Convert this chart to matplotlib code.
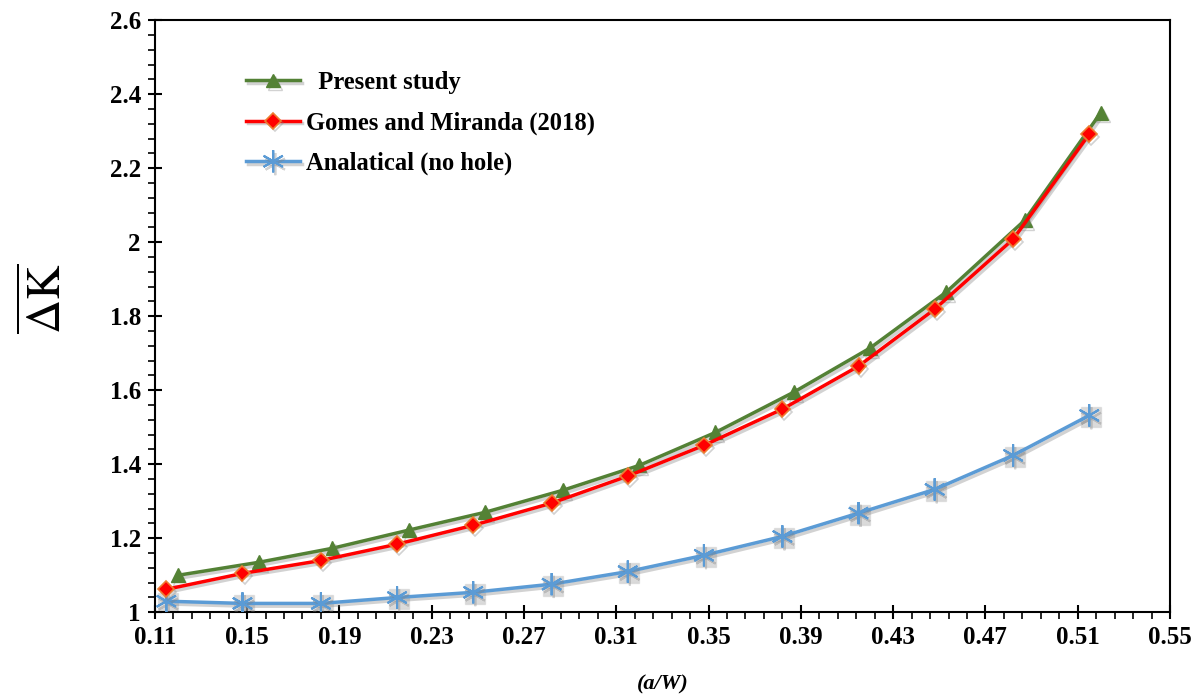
import matplotlib
matplotlib.use('Agg')
import matplotlib.pyplot as plt
import matplotlib.patheffects as pe
import numpy as np
from matplotlib.ticker import MultipleLocator, FixedLocator

plt.rcParams['font.family'] = 'Liberation Serif'
plt.rcParams['mathtext.fontset'] = 'stix'

# Present study
x_present = [0.120, 0.155, 0.187, 0.220, 0.253, 0.287, 0.320, 0.353, 0.387, 0.420, 0.453, 0.487, 0.520]
y_present = [1.100, 1.135, 1.173, 1.222, 1.270, 1.330, 1.397, 1.486, 1.595, 1.714, 1.865, 2.059, 2.350]

# Gomes and Miranda (2018)
x_gomes = [0.115, 0.148, 0.182, 0.215, 0.248, 0.282, 0.315, 0.348, 0.382, 0.415, 0.448, 0.482, 0.515]
y_gomes = [1.062, 1.105, 1.140, 1.184, 1.235, 1.295, 1.368, 1.451, 1.549, 1.665, 1.819, 2.008, 2.292]

# Analatical (no hole)
x_anal = [0.115, 0.148, 0.182, 0.215, 0.248, 0.282, 0.315, 0.348, 0.382, 0.415, 0.448, 0.482, 0.515]
y_anal = [1.030, 1.024, 1.024, 1.040, 1.054, 1.076, 1.110, 1.154, 1.205, 1.268, 1.332, 1.424, 1.532]

x_ticks = [0.11, 0.15, 0.19, 0.23, 0.27, 0.31, 0.35, 0.39, 0.43, 0.47, 0.51, 0.55]
x_tick_labels = ['0.11', '0.15', '0.19', '0.23', '0.27', '0.31', '0.35', '0.39', '0.43', '0.47', '0.51', '0.55']
y_ticks = [1.0, 1.2, 1.4, 1.6, 1.8, 2.0, 2.2, 2.4, 2.6]
y_tick_labels = ['1', '1.2', '1.4', '1.6', '1.8', '2', '2.2', '2.4', '2.6']

fig = plt.figure(figsize=(12, 6.95), dpi=100)
ax = fig.add_axes([0.129, 0.119, 0.846, 0.852])

shadow = [pe.SimpleLineShadow(offset=(1.5, -2), shadow_color='gray', alpha=0.35), pe.Normal()]

ax.plot(x_present, y_present, color='#538135', lw=2.5, marker='^', ms=10,
        mfc='#548235', mec='#548235', label='  Present study', path_effects=shadow, zorder=3)
ax.plot(x_gomes, y_gomes, color='#ff0000', lw=2.5, marker='D', ms=8,
        mfc='#ff0000', mec='#ed7d31', mew=1.2, label='Gomes and Miranda (2018)', path_effects=shadow, zorder=4)
# gray box shadow behind blue stars
ax.plot(np.array(x_anal) + 0.0007, np.array(y_anal) - 0.004, ls='none', marker='s', ms=15,
        mfc='#bdbdbd', mec='#d0d0d0', alpha=0.55, zorder=2)
ax.plot(x_anal, y_anal, color='#5b9bd5', lw=2.5, marker=(6, 2, 0), ms=16,
        mec='#5b9bd5', mew=1.5, label='Analatical (no hole)', path_effects=shadow, zorder=3)

ax.set_xlim(0.11, 0.55)
ax.set_ylim(1.0, 2.6)
ax.xaxis.set_major_locator(FixedLocator(x_ticks))
ax.set_xticklabels(x_tick_labels)
ax.xaxis.set_minor_locator(FixedLocator(np.arange(0.11, 0.5501, 0.008)))
ax.yaxis.set_major_locator(FixedLocator(y_ticks))
ax.set_yticklabels(y_tick_labels)
ax.yaxis.set_minor_locator(MultipleLocator(0.04))

ax.tick_params(which='major', direction='inout', length=10, width=1.5, labelsize=18, pad=5)
ax.tick_params(which='minor', direction='out', length=5, width=1.2)
for lab in ax.get_xticklabels() + ax.get_yticklabels():
    lab.set_fontweight('bold')
for s in ax.spines.values():
    s.set_linewidth(1.5)

ax.set_xlabel('(a/W)', fontsize=16, fontweight='bold', fontstyle='italic', labelpad=18)
ax.set_ylabel(r'$\overline{\Delta \mathrm{K}}$', fontsize=34)
ax.yaxis.set_label_coords(-0.082, 0.53)

leg = ax.legend(loc='upper left', bbox_to_anchor=(0.09, 0.914), frameon=False,
                prop={'weight': 'bold', 'size': 17.7}, handlelength=2.2, handletextpad=0.25,
                labelspacing=0.7, borderpad=0, borderaxespad=0)

fig.savefig('out.png', dpi=100)
